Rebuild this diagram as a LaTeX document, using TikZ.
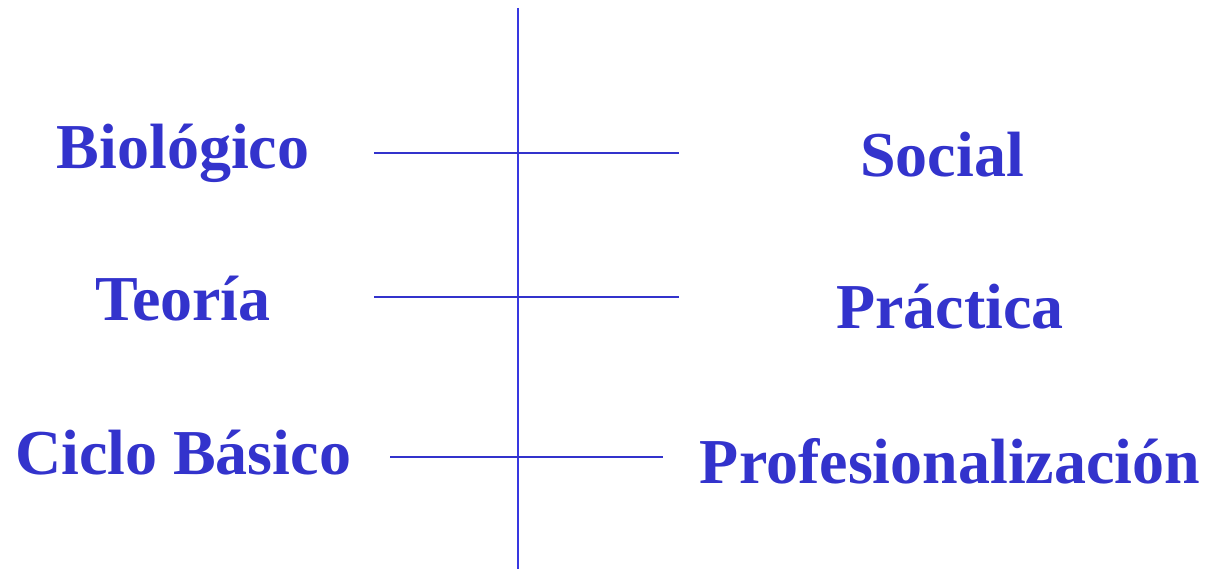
\documentclass[tikz,border=0pt]{standalone}
\usepackage{fontspec}
\setmainfont{Liberation Serif}
\usetikzlibrary{positioning}
\definecolor{inkBlue}{HTML}{3333CC}
\definecolor{axisBlue}{HTML}{3838E0}
\tikzset{
  pole/.style={font=\fontsize{64}{70}\selectfont\bfseries,text=inkBlue,anchor=base,inner sep=0pt},
  bar/.style={inkBlue,line width=2pt},
  axis/.style={axisBlue,line width=2pt},
}

\begin{document}
\begin{tikzpicture}[x=1pt,y=-1pt]
\useasboundingbox (0,0) rectangle (1205,569);

% ================= AXIS =================
\coordinate (axTop) at (518,8);
\coordinate (axBot) at (518,569);
\draw[axis] (axTop) -- (axBot);

% ================= LEFT POLES =================
\node[pole] (bio) at (183,169) {Biológico};
\node[pole] (teo) at (183,321) {Teoría};
\node[pole] (cic) at (183,474) {Ciclo Básico};

% ================= RIGHT POLES =================
\node[pole] (soc) at (942,177) {Social};
\node[pole] (pra) at (950,329) {Práctica};
\node[pole] (pro) at (950,483) {Profesionalización};

% ================= BARS =================
\coordinate (b1L) at (374,153); \coordinate (b1R) at (679,153);
\coordinate (b2L) at (374,297); \coordinate (b2R) at (679,297);
\coordinate (b3L) at (390,457); \coordinate (b3R) at (663,457);
\draw[bar] (b1L) -- (b1R);
\draw[bar] (b2L) -- (b2R);
\draw[bar] (b3L) -- (b3R);

\end{tikzpicture}
\end{document}
